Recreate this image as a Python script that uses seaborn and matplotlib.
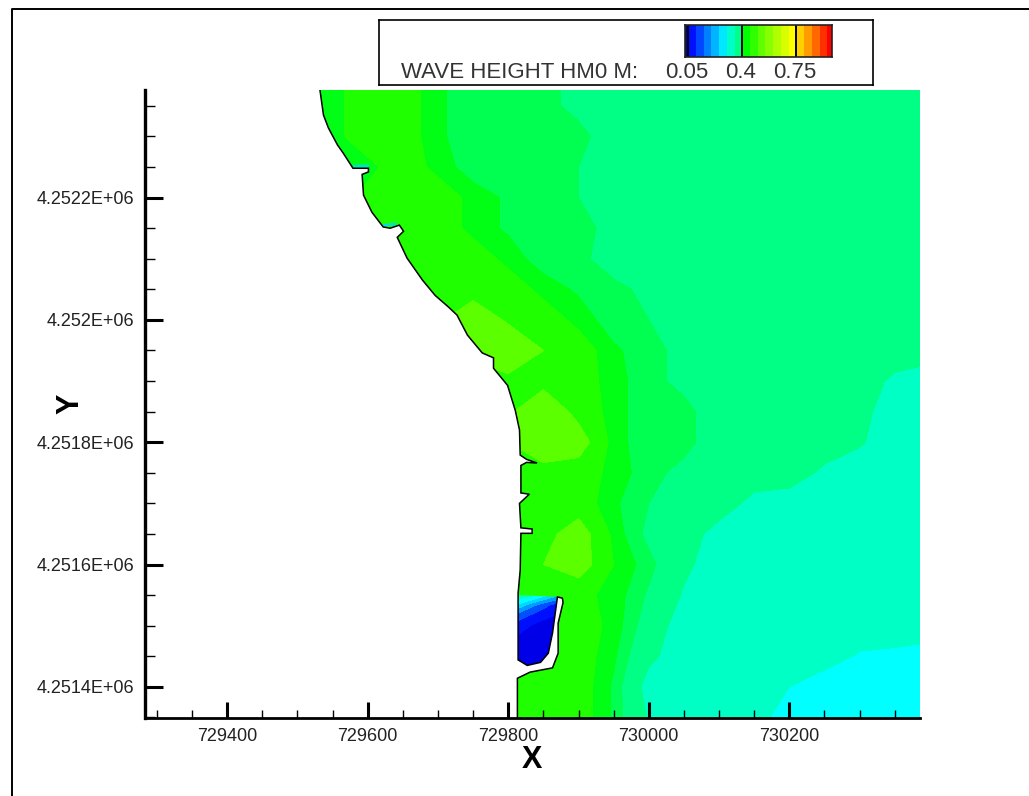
import numpy as np
import seaborn as sns
import matplotlib
matplotlib.use('Agg')
import matplotlib.pyplot as plt
from matplotlib.colors import ListedColormap, BoundaryNorm
from matplotlib.lines import Line2D
from matplotlib.patches import Polygon

# grid of the wave height field (metres)
grid_x = [729500, 729550, 729600, 729650, 729700, 729750, 729800, 729850, 729900, 729950,
          730000, 730050, 730100, 730150, 730200, 730250, 730300, 730350, 730400]
grid_y = [4252400, 4252350, 4252300, 4252250, 4252200, 4252150, 4252100, 4252050, 4252000, 4251950, 4251900,
          4251850, 4251800, 4251750, 4251700, 4251650, 4251600, 4251550, 4251500, 4251450, 4251400, 4251350]
hm0 = [
    [.44, .44, .47, .47, .43, .41, .41, .41, .39, .375, .375, .375, .375, .375, .375, .375, .375, .375, .375],
    [.44, .44, .47, .47, .43, .41, .41, .41, .39, .375, .375, .375, .375, .375, .375, .375, .375, .375, .375],
    [.44, .44, .47, .47, .43, .41, .41, .41, .41, .38, .375, .375, .375, .375, .375, .375, .375, .375, .375],
    [.44, .44, .44, .47, .44, .41, .41, .41, .40, .375, .375, .375, .375, .375, .375, .375, .375, .375, .375],
    [.44, .44, .46, .47, .47, .44, .42, .41, .40, .375, .375, .375, .375, .375, .375, .375, .375, .375, .375],
    [.44, .44, .44, .48, .47, .44, .42, .41, .41, .39, .375, .375, .375, .375, .375, .375, .375, .375, .375],
    [.44, .44, .44, .48, .47, .47, .44, .41, .41, .38, .375, .375, .375, .375, .375, .375, .375, .375, .375],
    [.44, .44, .44, .47, .47, .47, .47, .44, .42, .41, .39, .375, .375, .375, .375, .375, .375, .375, .375],
    [.47, .47, .47, .47, .49, .55, .49, .47, .44, .41, .40, .375, .375, .375, .375, .375, .375, .375, .375],
    [.47, .47, .47, .47, .47, .52, .56, .50, .47, .43, .41, .39, .375, .375, .375, .375, .375, .375, .37],
    [.47, .47, .47, .47, .47, .47, .48, .48, .47, .435, .41, .39, .375, .375, .375, .375, .375, .34, .325],
    [.47, .47, .47, .47, .47, .47, .49, .55, .48, .435, .41, .41, .38, .375, .375, .375, .365, .325, .325],
    [.47, .47, .47, .47, .47, .47, .50, .56, .53, .435, .41, .41, .38, .375, .375, .375, .355, .325, .325],
    [.47, .47, .47, .47, .47, .47, .47, .47, .47, .44, .41, .39, .375, .375, .375, .34, .325, .325, .325],
    [.47, .47, .47, .47, .47, .47, .47, .47, .47, .43, .40, .385, .375, .335, .325, .325, .325, .325, .325],
    [.47, .47, .47, .47, .47, .47, .47, .48, .53, .44, .39, .375, .33, .325, .325, .325, .325, .325, .325],
    [.47, .47, .47, .47, .47, .47, .47, .50, .53, .45, .41, .36, .325, .325, .325, .325, .325, .325, .325],
    [.47, .47, .47, .47, .47, .47, .47, .48, .46, .44, .395, .345, .325, .325, .325, .325, .325, .325, .325],
    [.47, .47, .47, .47, .47, .47, .47, .47, .47, .44, .38, .325, .325, .325, .325, .325, .325, .325, .325],
    [.47, .47, .47, .47, .47, .47, .47, .47, .47, .43, .36, .325, .325, .325, .325, .32, .295, .29, .28],
    [.47, .47, .47, .47, .47, .47, .47, .47, .47, .42, .33, .325, .325, .325, .30, .275, .275, .275, .275],
    [.47, .47, .47, .47, .47, .47, .47, .47, .47, .42, .345, .325, .325, .32, .275, .275, .275, .275, .275],
]

# sheltered water behind the breakwater
basin_x = [729810, 729840, 729875]
basin_y = [4251550, 4251534, 4251517, 4251501, 4251476, 4251420]
basin_hm0 = [
    [.35, .30, .20],
    [.25, .15, .06],
    [.14, .08, .04],
    [.08, .04, .03],
    [.04, .03, .03],
    [.03, .03, .03],
]
basin_edge_x = [729814, 729870, 729863, 729857, 729846, 729827, 729814]
basin_edge_y = [4251550, 4251547, 4251488, 4251455, 4251440, 4251435, 4251444]

# shoreline, north to south, round the breakwater
coast_x = [729532, 729537, 729544, 729557, 729565, 729579, 729601, 729601, 729592, 729594, 729606,
           729622, 729632, 729645, 729651, 729642, 729656, 729678, 729696, 729715, 729727, 729742,
           729763, 729779, 729779, 729799, 729810, 729816, 729817, 729826, 729841, 729826, 729818,
           729818, 729830, 729816, 729818, 729834, 729834, 729818, 729817, 729814, 729814, 729827,
           729846, 729857, 729863, 729870, 729877, 729878, 729871, 729871, 729863, 729831, 729813, 729813]
coast_y = [4252376, 4252335, 4252314, 4252286, 4252273, 4252248, 4252248, 4252242, 4252238, 4252204, 4252176,
           4252152, 4252150, 4252155, 4252145, 4252135, 4252101, 4252065, 4252040, 4252021, 4252008, 4251975,
           4251946, 4251938, 4251921, 4251893, 4251852, 4251820, 4251779, 4251772, 4251766, 4251767, 4251762,
           4251717, 4251715, 4251700, 4251660, 4251658, 4251651, 4251651, 4251591, 4251553, 4251444, 4251435,
           4251440, 4251455, 4251488, 4251547, 4251545, 4251538, 4251504, 4251455, 4251431, 4251424, 4251414, 4251349]

# low readings in the two small harbours on the north shore
notch_x = [[729580, 729600], [729622, 729640]]
notch_y = [[4252251, 4252251], [4252155, 4252157]]

x_ticks = [729400, 729600, 729800, 730000, 730200]
y_ticks = [4251400, 4251600, 4251800, 4252000, 4252200]
y_tick_labels = ['4.2514E+06', '4.2516E+06', '4.2518E+06', '4.252E+06', '4.2522E+06']

legend_title = 'WAVE HEIGHT HM0 M:'
legend_values = ['0.05', '0.4', '0.75']
legend_value_bands = [1, 8, 15]
legend_bands = np.arange(20)

field_levels = [0, .05, .1, .15, .2, .25, .3, .35, .4, .425, .45, .5, .6]
field_colors = ['#0000e8', '#0010ff', '#0050ff', '#009cff', '#00d8ff', '#00ffff', '#00ffc4', '#00ff84',
                '#00ff50', '#00ff14', '#20ff00', '#5cff00']
band_colors = ['#0000a0', '#0010ff', '#0048ff', '#0080ff', '#00b4ff', '#00e8ff', '#00ffc8', '#00ff88',
               '#00ff00', '#30ff00', '#60ff00', '#88ff00', '#b0ff00', '#d8ff00', '#ffff00',
               '#ffd000', '#ff9c00', '#ff6800', '#ff3000', '#ff0000']

sns.set_theme(style='white')
plt.rcParams['font.family'] = ['Liberation Sans', 'DejaVu Sans']

W, H = 1029, 796
fig = plt.figure(figsize=(W / 100, H / 100), dpi=100)


def px_box(left, top, right, bottom):
    return [left / W, 1 - bottom / H, (right - left) / W, (bottom - top) / H]


ax = fig.add_axes(px_box(145, 90, 920, 718))
xmin, xmax = 729283, 730386
ymin, ymax = 4251349, 4252376

cmap = ListedColormap(sns.color_palette(field_colors))
norm = BoundaryNorm(field_levels, cmap.N)
ax.contourf(grid_x, grid_y, hm0, levels=field_levels, cmap=cmap, norm=norm)

basin = Polygon(list(zip(basin_edge_x, basin_edge_y)), closed=True, transform=ax.transData, fc='none', ec='none')
ax.add_patch(basin)
basin_fill = ax.contourf(basin_x, basin_y, basin_hm0, levels=field_levels, cmap=cmap, norm=norm)
basin_fill.set_clip_path(basin)

# land is left white, only the shoreline gets a line
land = list(zip(coast_x, coast_y)) + [(xmin, ymin), (xmin, ymax)]
ax.add_patch(Polygon(land, closed=True, fc='white', ec='none', zorder=3))
ax.plot(coast_x, coast_y, color='black', lw=1.1, zorder=4, solid_joinstyle='miter')
for nx, ny in zip(notch_x, notch_y):
    ax.plot(nx, ny, color='#00d8ff', lw=1.5, zorder=3.5)

ax.set_xlim(xmin, xmax)
ax.set_ylim(ymin, ymax)
ax.set_xticks(x_ticks)
ax.set_yticks(y_ticks, y_tick_labels)
ax.xaxis.set_major_formatter(lambda v, pos: f'{v:.0f}')
ax.set_xticks(np.arange(729300, 730400, 50), minor=True)
ax.set_yticks(np.arange(4251350, 4252400, 50), minor=True)
ax.tick_params(which='major', direction='in', labelsize=13, labelcolor='#222222', color='black',
               width=2.2, left=True, bottom=True)
ax.tick_params(axis='x', which='major', length=11.5, pad=7)
ax.tick_params(axis='y', which='major', length=13, pad=8)
ax.tick_params(which='minor', direction='in', width=1, color='black', left=True, bottom=True)
ax.tick_params(axis='x', which='minor', length=6)
ax.tick_params(axis='y', which='minor', length=7)
ax.grid(False)
sns.despine(ax=ax)
ax.spines['left'].set_linewidth(2.4)
ax.spines['bottom'].set_linewidth(2.0)
ax.spines['left'].set_color('black')
ax.spines['bottom'].set_color('black')
ax.xaxis.set_zorder(10)
ax.yaxis.set_zorder(10)
for spine in ax.spines.values():
    spine.set_zorder(11)

fig.text(532 / W, 1 - 760 / H, 'X', fontsize=22, fontweight='bold', color='black', ha='center', va='center')
fig.text(70 / W, 1 - 404 / H, 'Y', fontsize=22, fontweight='bold', color='black', rotation=90,
         ha='center', va='center')

# legend box
box = fig.add_axes(px_box(379, 20, 873, 85))
box.set_xticks([])
box.set_yticks([])
for spine in box.spines.values():
    spine.set_visible(True)
    spine.set_color('black')
    spine.set_linewidth(1.2)

cax = fig.add_axes(px_box(685, 25, 832, 57))
sns.heatmap([legend_bands], ax=cax, cmap=ListedColormap(sns.color_palette(band_colors)), cbar=False,
            xticklabels=False, yticklabels=False)
cax.set_xlim(0.6, 19.6)
for b in legend_value_bands:
    cax.axvline(b, color='black', lw=1.4)
for spine in cax.spines.values():
    spine.set_visible(True)
    spine.set_color('#222222')
    spine.set_linewidth(1.2)

fig.text(401 / W, 1 - 73 / H, legend_title, fontsize=16, color='#333333', ha='left', va='center')
for label, cx in zip(legend_values, [687, 741, 795]):
    fig.text(cx / W, 1 - 73 / H, label, fontsize=16, color='#333333', ha='center', va='center')

# window frame, only the top and left edges show
fig.add_artist(Line2D([12 / W, 12 / W, 1], [0, 1 - 8.5 / H, 1 - 8.5 / H], transform=fig.transFigure,
                      color='black', lw=1.4))

fig.savefig('out.png', dpi=100)
